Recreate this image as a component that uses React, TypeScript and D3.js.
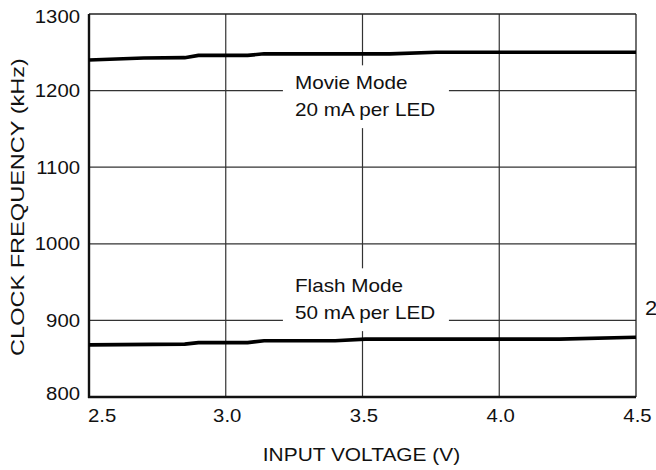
import * as d3 from "d3";

const voltageTicks = [2.5, 3.0, 3.5, 4.0, 4.5];
const freqTicks = [800, 900, 1000, 1100, 1200, 1300];

// Movie mode, 20 mA per LED
const movieVoltage = [2.5, 2.7, 2.85, 2.9, 3.08, 3.14, 3.6, 3.77, 4.5];
const movieFreq = [1240, 1242.5, 1243, 1246, 1246, 1248, 1248, 1250, 1250];

// Flash mode, 50 mA per LED
const flashVoltage = [2.5, 2.85, 2.9, 3.08, 3.14, 3.4, 3.51, 4.22, 4.5];
const flashFreq = [868, 869, 871, 871, 873.5, 873.5, 875.5, 875.5, 878];

const noteTitles = ["Movie Mode", "Flash Mode"];
const noteSubtitles = ["20 mA per LED", "50 mA per LED"];

const W = 656;
const H = 470;
const FONT = "'Liberation Sans', Arial, Helvetica, sans-serif";

const x = d3.scaleLinear().domain([2.5, 4.5]).range([89, 636]);
const y = d3.scaleLinear().domain([800, 1300]).range([397, 14]);

const line = d3
  .line<[number, number]>()
  .x((d) => x(d[0]))
  .y((d) => y(d[1]));

// stretched text, the source font runs wider than Arial
const Txt = ({ px, py, size, sx = 1.14, anchor = "start", rotate = 0, children }: any) => (
  <text
    transform={`translate(${px},${py}) rotate(${rotate}) scale(${sx},1)`}
    fontSize={size}
    fontFamily={FONT}
    textAnchor={anchor}
    fill="#111"
  >
    {children}
  </text>
);

export default function App() {
  const movie = movieVoltage.map((v, i) => [v, movieFreq[i]] as [number, number]);
  const flash = flashVoltage.map((v, i) => [v, flashFreq[i]] as [number, number]);

  // label blocks sit in gaps cut out of the grid
  const noteX = 3.253;
  const noteBaselines = [
    [1202, 1167],
    [937.5, 902],
  ];
  const gaps = [
    [3.209, 3.816, 1233, 1151],
    [3.209, 3.816, 968, 886],
  ];

  return (
    <svg
      width={W}
      height={H}
      style={{ position: "absolute", left: 0, top: 0, background: "#fff" }}
    >
      <rect width={W} height={H} fill="#fff" />

      {/* grid */}
      <g stroke="#333" strokeWidth={1.2}>
        {freqTicks.slice(1, -1).map((f) => (
          <line key={f} x1={x(2.5)} x2={x(4.5)} y1={y(f)} y2={y(f)} />
        ))}
        {voltageTicks.slice(1, -1).map((v) => (
          <line key={v} x1={x(v)} x2={x(v)} y1={y(800)} y2={y(1300)} />
        ))}
      </g>

      {gaps.map((g, i) => (
        <rect
          key={i}
          x={x(g[0])}
          y={y(g[2])}
          width={x(g[1]) - x(g[0])}
          height={y(g[3]) - y(g[2])}
          fill="#fff"
        />
      ))}

      {/* frame */}
      <line x1={x(2.5)} x2={x(4.5)} y1={y(1300)} y2={y(1300)} stroke="#222" strokeWidth={1.3} />
      <line x1={x(4.5)} x2={x(4.5)} y1={y(800)} y2={y(1300)} stroke="#222" strokeWidth={1.3} />
      <line x1={x(2.5)} x2={x(2.5)} y1={y(800) + 1} y2={y(1300)} stroke="#111" strokeWidth={2.4} />
      <line x1={x(2.5) - 1} x2={x(4.5)} y1={y(800)} y2={y(800)} stroke="#111" strokeWidth={2.4} />

      {/* curves */}
      <path d={line(movie) ?? ""} fill="none" stroke="#000" strokeWidth={3.6} />
      <path d={line(flash) ?? ""} fill="none" stroke="#000" strokeWidth={3.6} />

      {/* annotations */}
      {noteTitles.map((t, i) => (
        <g key={t}>
          <Txt px={x(noteX)} py={y(noteBaselines[i][0])} size={18} sx={1.15}>
            {t}
          </Txt>
          <Txt px={x(noteX)} py={y(noteBaselines[i][1])} size={18} sx={1.15}>
            {noteSubtitles[i]}
          </Txt>
        </g>
      ))}

      {/* y tick labels */}
      {freqTicks.map((f, i) => {
        const nudge = i === 0 ? -4 : i === freqTicks.length - 1 ? 2 : 0;
        return (
          <Txt key={f} px={80} py={y(f) + 6.5 + nudge} size={18} sx={1.13} anchor="end">
            {f}
          </Txt>
        );
      })}

      {/* x tick labels */}
      {voltageTicks.map((v, i) => (
        <Txt
          key={v}
          px={i === 0 ? x(v) - 1 : x(v) + 1.5}
          py={y(800) + 24.5}
          size={18}
          sx={1.13}
          anchor={i === 0 ? "start" : "middle"}
        >
          {v.toFixed(1)}
        </Txt>
      ))}

      {/* axis titles */}
      <Txt px={(x(2.5) + x(4.5)) / 2 - 1} py={460.5} size={19} sx={1.1} anchor="middle">
        INPUT VOLTAGE (V)
      </Txt>
      <Txt px={24} py={(y(800) + y(1300)) / 2 + 1.5} size={19} sx={1.24} anchor="middle" rotate={-90}>
        CLOCK FREQUENCY (kHz)
      </Txt>

      {/* clipped figure marker at the right edge, cut off as in the source */}
      <Txt px={645} py={315} size={20} sx={1.1}>
        2
      </Txt>
    </svg>
  );
}
